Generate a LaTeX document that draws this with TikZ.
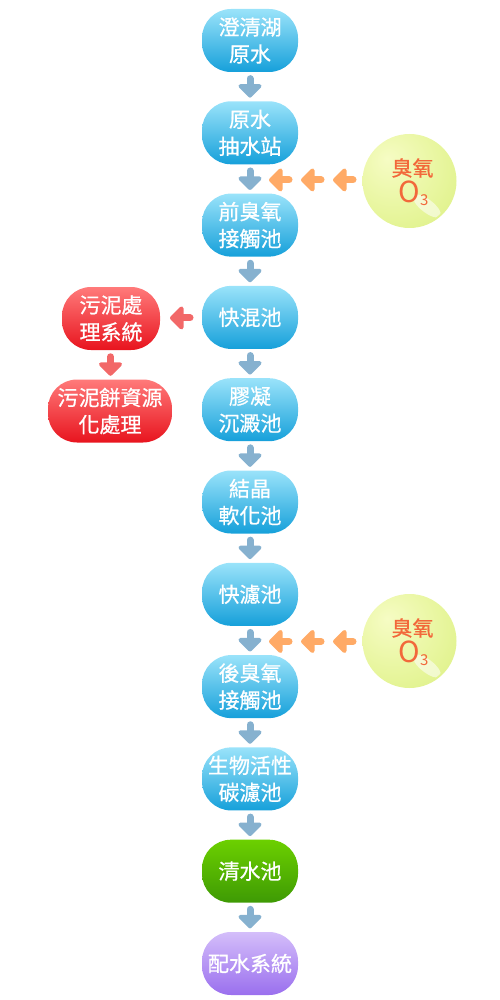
\documentclass[tikz,border=0pt]{standalone}
\usepackage{fontspec}
\setmainfont{Noto Sans CJK TC}
\newfontfamily\boxfont{Noto Sans CJK TC}[FakeBold=0.7]
\usetikzlibrary{calc}
\definecolor{bluetop}{HTML}{9AE3FA}
\definecolor{bluebot}{HTML}{16A0DA}
\definecolor{redtop}{HTML}{FF7A7A}
\definecolor{redbot}{HTML}{E8141E}
\definecolor{greentop}{HTML}{6CD000}
\definecolor{greenbot}{HTML}{3E9A04}
\definecolor{purptop}{HTML}{D4BEFA}
\definecolor{purpbot}{HTML}{9A6FEE}
\definecolor{arrblue}{HTML}{86B1CF}
\definecolor{arrorange}{HTML}{FFAA66}
\definecolor{arrred}{HTML}{F26868}
\definecolor{oztext}{HTML}{F2683A}
\definecolor{ozin}{HTML}{F6FCC4}
\definecolor{ozmid}{HTML}{E6F59A}
\definecolor{ozout}{HTML}{D2EB6C}
\pgfdeclareradialshading{ozoneshade}{\pgfpoint{-12bp}{12bp}}{color(0bp)=(ozin); color(28bp)=(ozmid); color(58bp)=(ozout); color(80bp)=(ozout)}
\tikzset{
  box/.style={rounded corners=29pt, minimum width=96pt, minimum height=63pt, inner sep=0pt,
    align=center, text=white, font=\boxfont\fontsize{21}{27}\selectfont},
  bluebox/.style={box, top color=bluetop, bottom color=bluebot},
  redbox/.style={box, top color=redtop, bottom color=redbot},
  greenbox/.style={box, top color=greentop, bottom color=greenbot},
  purpbox/.style={box, top color=purptop, bottom color=purpbot},
  ozone/.style={circle, minimum size=94pt, inner sep=0pt, shading=ozoneshade},
  arrline/.style={line width=7pt, line cap=round, line join=round},
  headline/.style={line width=4pt, line join=round},
  downarr/.pic={\draw[arrline] (0,-8) -- (0,2);
    \filldraw[headline] (-9.5,-0.5) -- (9.5,-0.5) -- (0,9) -- cycle;},
  leftarr/.pic={\draw[arrline] (9,0) -- (-1,0);
    \filldraw[headline] (0.5,-9.5) -- (0.5,9.5) -- (-9,0) -- cycle;},
}
\begin{document}
\begin{tikzpicture}[x=1pt,y=-1pt]
\useasboundingbox (0,0) rectangle (500,1000);
\node[bluebox] (n1) at (250,40.5) {澄清湖\\原水};
\node[bluebox] (n2) at (250,132.8) {原水\\抽水站};
\node[bluebox] (n3) at (250,225.1) {前臭氧\\接觸池};
\node[bluebox] (n4) at (250,317.4) {快混池};
\node[bluebox] (n5) at (250,409.7) {膠凝\\沉澱池};
\node[bluebox] (n6) at (250,502.0) {結晶\\軟化池};
\node[bluebox] (n7) at (250,594.3) {快濾池};
\node[bluebox] (n8) at (250,686.6) {後臭氧\\接觸池};
\node[bluebox] (n9) at (250,778.9) {生物活性\\碳濾池};
\node[greenbox] (n10) at (250,871.2) {清水池};
\node[purpbox] (n11) at (250,963.5) {配水系統};
\node[redbox, minimum width=98pt] (r1) at (111,318.5) {污泥處\\理系統};
\node[redbox, minimum width=124pt] (r2) at (110,411) {污泥餅資源\\化處理};
% ozone balls
\foreach \name/\yy in {oz1/181, oz2/641}{
  \node[ozone] (\name) at (409.5,\yy) {};
  \begin{scope}
    \clip (409.5,\yy) circle (45pt);
    \fill[white, opacity=0.55, rotate around={-38:(427,\yy+25)}] (427,\yy+25) ellipse (17pt and 6.5pt);
  \end{scope}
  \node[text=oztext, font=\boxfont\fontsize{21}{24}\selectfont, inner sep=0pt] at ($(\name)+(3,-13)$) {臭氧};
  \node[text=oztext, inner sep=0pt] at ($(\name)+(4,12)$) {\fontsize{29}{30}\selectfont O\raisebox{-3pt}{\fontsize{15}{16}\selectfont 3}};
}
% blue down arrows
\foreach \a/\b in {n1/n2,n2/n3,n3/n4,n4/n5,n5/n6,n6/n7,n7/n8,n8/n9,n9/n10,n10/n11}{
  \pic[arrblue] at ($(\a.south)!0.5!(\b.north)$) {downarr};
}
% orange arrows from ozone
\foreach \a/\b/\oz in {n2/n3/oz1, n7/n8/oz2}{
  \coordinate (m) at ($(\a.south)!0.5!(\b.north)$);
  \foreach \dx in {30,62,94}{
    \pic[arrorange] at ($(m)+(\dx,1)$) {leftarr};
  }
}
% sludge arrows
\pic[arrred] at ($(n4.west)!0.5!(r1.east)$) {leftarr};
\pic[arrred] at ($(r1.south)!0.5!(r2.north)$) {downarr};
\end{tikzpicture}
\end{document}
